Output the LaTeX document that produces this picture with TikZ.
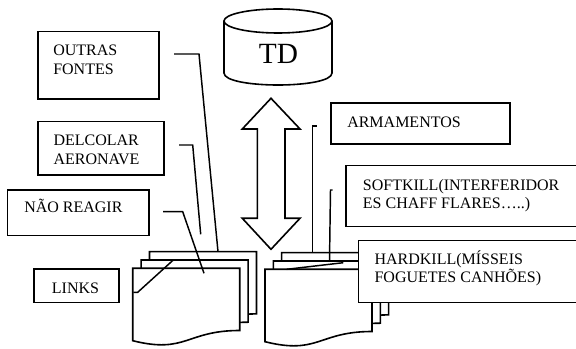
\documentclass[tikz,border=0pt]{standalone}
\usepackage{fontspec}
\setmainfont{Liberation Serif}
\begin{document}
\begin{tikzpicture}
	[x=0.75pt, y=-0.75pt,
	box/.style={draw,black,line width=1.2pt,fill=white},
	conn/.style={black,line width=1.1pt},
	doc/.style={draw,black,line width=1.2pt,fill=white,line join=miter},
	boxtext/.style={anchor=base west,inner sep=0pt,align=left,font=\fontsize{12}{14}\selectfont}]

	\useasboundingbox (0,0) rectangle (576,349);
	\clip (0,0) rectangle (576,349);

	% Draw document stacks
	\foreach \i in {2,1,0}
	{
		\draw[doc, shift={(8.4*\i,-8.3*\i)}] (132.7,268.3) -- (239.7,268.3) -- (239.7,330.5)
			.. controls (186.2,330.5) and (186.2,354.1) .. (132.7,340.7) -- cycle;
		\draw[doc, shift={(8.3*\i,-8.3*\i)}] (265,269.3) -- (372,269.3) -- (372,331.5)
			.. controls (318.5,331.5) and (318.5,355.1) .. (265,341.7) -- cycle;
	}

	% Create connector points
	\coordinate (OF1) at (174,54);
	\coordinate (OF2) at (199,54);
	\coordinate (OF3) at (218,251.7);

	\coordinate (DA1) at (179,145);
	\coordinate (DA2) at (192.7,145);
	\coordinate (DA3) at (200.7,234.3);

	\coordinate (NR1) at (163,211.7);
	\coordinate (NR2) at (182.7,211.7);
	\coordinate (NR3) at (204,273.3);

	\coordinate (LK1) at (133.3,292.3);
	\coordinate (LK2) at (137.7,292.3);
	\coordinate (LK3) at (173.3,260);

	\coordinate (AR1) at (316.7,126);
	\coordinate (AR2) at (312.3,126);
	\coordinate (AR3) at (312.3,253);

	\coordinate (SK1) at (332.5,190);
	\coordinate (SK2) at (330.5,190);
	\coordinate (SK3) at (329.5,261);

	\coordinate (HK1) at (286.7,269.3);
	\coordinate (HK2) at (343.3,262.7);

	% Draw connectors
	\draw[conn] (OF1) -- (OF2) -- (OF3);
	\draw[conn] (DA1) -- (DA2) -- (DA3);
	\draw[conn] (NR1) -- (NR2) -- (NR3);
	\draw[conn] (LK1) -- (LK2) -- (LK3);
	\draw[conn] (AR1) -- (AR2) -- (AR3);
	\draw[conn] (SK1) -- (SK2) -- (SK3);
	\draw[conn] (HK1) -- (HK2);

	% Draw boxes
	\draw[box] (37.7,31.7) rectangle (159,99.3);
	\draw[box] (37.7,121.7) rectangle (164,175);
	\draw[box] (7.3,190) rectangle (149,235.7);
	\draw[box] (34,269) rectangle (119,302.7);
	\draw[box] (330.7,103.3) rectangle (510,144.3);
	\draw[box] (346,165.5) rectangle (590,226.7);
	\draw[box] (358.3,240.5) rectangle (590,302.7);

	% Box texts (base is the last line)
	\node[boxtext] (outras) at (53,74.4) {OUTRAS\\FONTES};
	\node[boxtext] (delcolar) at (53.3,164.2) {DELCOLAR\\AERONAVE};
	\node[boxtext] (naoreagir) at (24,212.7) {NÃO REAGIR};
	\node[boxtext] (links) at (51.7,293.3) {LINKS};
	\node[boxtext] (armamentos) at (347,127.3) {ARMAMENTOS};
	\node[boxtext] (softkill) at (362.7,208.7) {SOFTKILL(INTERFERIDOR\\ES CHAFF FLARES…..)};
	\node[boxtext] (hardkill) at (374.3,283) {HARDKILL(MÍSSEIS\\FOGUETES CANHÕES)};

	% Draw TD cylinder
	\draw[box] (224,21) -- (224,73) .. controls (224,89) and (332,89) .. (332,73) -- (332,21);
	\draw[box] (278,21) ellipse [x radius=54, y radius=12];
	\node[inner sep=0pt, font=\fontsize{22}{26}\selectfont] (td) at (278.5,53.7) {TD};

	% Draw double arrow
	\draw[box] (271,98.3) -- (300,129) -- (285,129) -- (285,218.3) -- (300,218.3)
		-- (271,249.3) -- (242.3,218.3) -- (257.3,218.3) -- (257.3,129) -- (242.3,129) -- cycle;

\end{tikzpicture}
\end{document}
